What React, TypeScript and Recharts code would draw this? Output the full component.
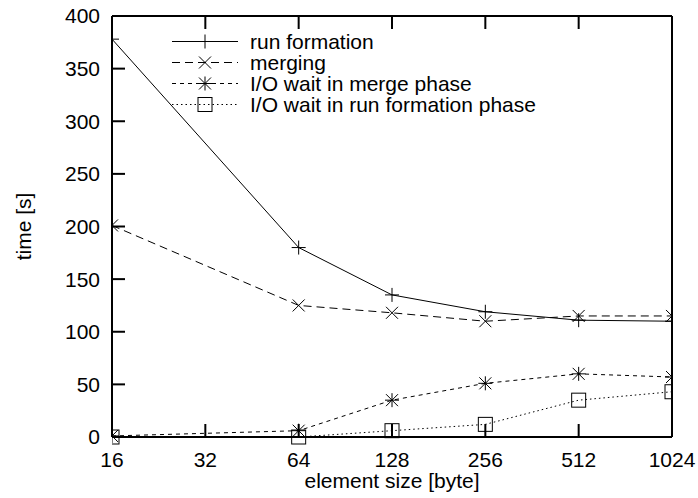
import { LineChart, Line, XAxis, YAxis, Legend } from "recharts";

// element sizes in bytes (x) and the measured times in seconds (y)
const sizes = [16, 64, 128, 256, 512, 1024];
const xTicks = [16, 32, 64, 128, 256, 512, 1024];
const yTicks = [0, 50, 100, 150, 200, 250, 300, 350, 400];

const runFormation = [378, 180, 135, 119, 111, 110];
const merging = [201, 125, 118, 110, 115, 115];
const ioWaitMerge = [1, 6, 35, 51, 60, 57];
const ioWaitRunFormation = [0, 0, 6, 12, 35, 43];

const seriesNames = [
  "run formation",
  "merging",
  "I/O wait in merge phase",
  "I/O wait in run formation phase",
];

const FONT = "'Liberation Sans', Arial, Helvetica, sans-serif";

const data = sizes.map((size, i) => ({
  size,
  run: runFormation[i],
  merge: merging[i],
  ioMerge: ioWaitMerge[i],
  ioRun: ioWaitRunFormation[i],
}));

type Kind = "plus" | "cross" | "star" | "square";

const series: { key: string; kind: Kind; dash?: string }[] = [
  { key: "run", kind: "plus" },
  { key: "merge", kind: "cross", dash: "8 5" },
  { key: "ioMerge", kind: "star", dash: "4 4" },
  { key: "ioRun", kind: "square", dash: "1.5 3" },
];

function Marker({ kind, cx, cy }: { kind: Kind; cx: number; cy: number }) {
  const r = 7;
  const d = 6;
  const s = { stroke: "#000", strokeWidth: 1, fill: "none" };
  if (kind === "square") {
    return <rect x={cx - r} y={cy - r} width={r * 2} height={r * 2} {...s} />;
  }
  return (
    <g>
      {(kind === "plus" || kind === "star") && (
        <>
          <line x1={cx - r} x2={cx + r} y1={cy} y2={cy} {...s} />
          <line x1={cx} x2={cx} y1={cy - r} y2={cy + r} {...s} />
        </>
      )}
      {(kind === "cross" || kind === "star") && (
        <>
          <line x1={cx - d} x2={cx + d} y1={cy - d} y2={cy + d} {...s} />
          <line x1={cx - d} x2={cx + d} y1={cy + d} y2={cy - d} {...s} />
        </>
      )}
    </g>
  );
}

function LegendBox() {
  return (
    <div style={{ fontFamily: FONT, fontSize: 21, lineHeight: "21px", color: "#000" }}>
      {series.map((s, i) => (
        <div key={s.key} style={{ display: "flex", alignItems: "center", height: 21 }}>
          <svg width={66} height={21} style={{ display: "block" }}>
            <line x1={0} x2={66} y1={10.5} y2={10.5} stroke="#000" strokeDasharray={s.dash} />
            <Marker kind={s.kind} cx={33} cy={10.5} />
          </svg>
          <span style={{ marginLeft: 12, whiteSpace: "nowrap" }}>{seriesNames[i]}</span>
        </div>
      ))}
    </div>
  );
}

const tickStyle = { fill: "#000", fontSize: 21, fontFamily: FONT };
const axisLine = { stroke: "#000", strokeWidth: 2 };
const tickLine = { stroke: "#000", strokeWidth: 2 };

export default function App() {
  return (
    <div style={{ position: "absolute", left: 0, top: 0, width: 698, height: 498, background: "#fff" }}>
      <LineChart width={698} height={498} data={data} margin={{ top: 0, right: 0, bottom: 11, left: 0 }}>
        <XAxis
          dataKey="size"
          type="number"
          scale="log"
          domain={[16, 1024]}
          ticks={xTicks}
          allowDataOverflow
          height={50}
          tickSize={-13}
          tickMargin={28}
          tick={tickStyle}
          axisLine={axisLine}
          tickLine={tickLine}
          label={({ viewBox }: any) => (
            <text
              x={viewBox.x + viewBox.width / 2}
              y={viewBox.y + 51}
              textAnchor="middle"
              fontSize={21}
              fontFamily={FONT}
              fill="#000"
            >
              element size [byte]
            </text>
          )}
        />
        <XAxis
          xAxisId="top"
          orientation="top"
          dataKey="size"
          type="number"
          scale="log"
          domain={[16, 1024]}
          ticks={xTicks}
          allowDataOverflow
          height={16}
          tickSize={-13}
          tickFormatter={() => ""}
          axisLine={axisLine}
          tickLine={tickLine}
        />
        <YAxis
          type="number"
          domain={[0, 400]}
          ticks={yTicks}
          width={112}
          tickSize={-13}
          tickMargin={25}
          tick={tickStyle}
          axisLine={axisLine}
          tickLine={tickLine}
          label={({ viewBox }: any) => {
            const cx = viewBox.x + 23;
            const cy = viewBox.y + viewBox.height / 2;
            return (
              <text
                x={cx}
                y={cy}
                transform={`rotate(-90 ${cx} ${cy})`}
                textAnchor="middle"
                dominantBaseline="central"
                fontSize={21}
                fontFamily={FONT}
                fill="#000"
              >
                time [s]
              </text>
            );
          }}
        />
        <YAxis
          yAxisId="right"
          orientation="right"
          type="number"
          domain={[0, 400]}
          ticks={yTicks}
          width={26}
          tickSize={-13}
          tickFormatter={() => ""}
          axisLine={axisLine}
          tickLine={tickLine}
        />
        <Legend
          layout="horizontal"
          verticalAlign="middle"
          align="center"
          wrapperStyle={{ position: "absolute", left: 172, top: 31, width: "auto" }}
          content={() => <LegendBox />}
        />
        {series.map((s, i) => (
          <Line
            key={s.key}
            dataKey={s.key}
            name={seriesNames[i]}
            stroke="#000"
            strokeWidth={1}
            strokeDasharray={s.dash}
            isAnimationActive={false}
            dot={(p: any) => <Marker key={`${s.key}-${p.index}`} kind={s.kind} cx={p.cx} cy={p.cy} />}
            activeDot={false}
          />
        ))}
      </LineChart>
    </div>
  );
}
